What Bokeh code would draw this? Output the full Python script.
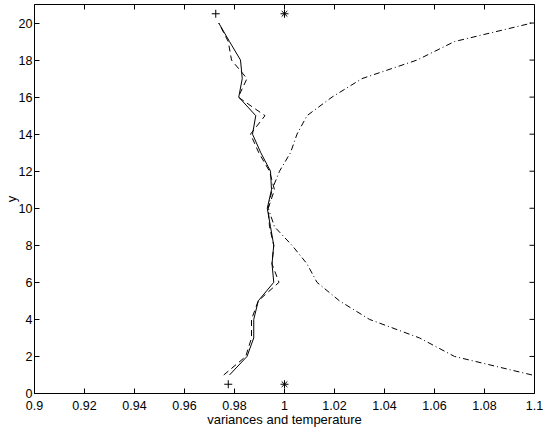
import math
from bokeh.plotting import figure
from bokeh.models import Range1d, FixedTicker
from bokeh.embed import file_html
from bokeh.resources import INLINE

y_levels = list(range(1, 21))
variance_solid = [0.978, 0.985, 0.9877, 0.9877, 0.9895, 0.9957, 0.995, 0.9957, 0.9944, 0.9931,
                  0.9948, 0.9944, 0.9905, 0.9872, 0.9885, 0.9817, 0.9831, 0.9824, 0.978, 0.9737]
variance_dashed = [0.9757, 0.9845, 0.9868, 0.9868, 0.9895, 0.9978, 0.995, 0.9957, 0.994, 0.9935,
                   0.996, 0.994, 0.9897, 0.9864, 0.9922, 0.9815, 0.985, 0.9788, 0.9775, 0.9737]
temperature = [1.099, 1.068, 1.054, 1.034, 1.022, 1.013, 1.009, 1.003, 0.996, 0.9935,
               0.995, 0.998, 1.0024, 1.005, 1.009, 1.019, 1.031, 1.053, 1.068, 1.099]
plus_x = [0.9725, 0.9775]
plus_y = [20.5, 0.5]
star_x = [1.0, 1.0]
star_y = [20.5, 0.5]
x_ticks = [0.9, 0.92, 0.94, 0.96, 0.98, 1.0, 1.02, 1.04, 1.06, 1.08, 1.1]
x_tick_labels = ["0.9", "0.92", "0.94", "0.96", "0.98", "1", "1.02", "1.04", "1.06", "1.08", "1.1"]
y_ticks = [0, 2, 4, 6, 8, 10, 12, 14, 16, 18, 20]
x_label = "variances and temperature"
y_label = "y"
X_MIN, X_MAX = 0.9, 1.1
Y_MIN, Y_MAX = 0, 21

FONT = "Liberation Sans"

p = figure(width=545, height=429, output_backend="svg", toolbar_location=None,
           x_range=Range1d(X_MIN, X_MAX), y_range=Range1d(Y_MIN, Y_MAX),
           min_border_left=20, min_border_right=11, min_border_top=4, min_border_bottom=20)
p.grid.visible = False
p.outline_line_color = "black"
p.outline_line_width = 1
p.background_fill_color = "white"
p.border_fill_color = "white"

p.xaxis.ticker = FixedTicker(ticks=x_ticks)
p.xaxis.major_label_overrides = {t: l for t, l in zip(x_ticks, x_tick_labels)}
p.yaxis.ticker = FixedTicker(ticks=y_ticks)
for ax in [p.xaxis[0], p.yaxis[0]]:
    ax.major_tick_in = 5
    ax.major_tick_out = 0
    ax.minor_tick_line_color = None
    ax.axis_line_color = "black"
    ax.major_tick_line_color = "black"
    ax.major_label_text_font = FONT
    ax.major_label_text_font_size = "12.5px"
    ax.major_label_text_color = "black"
    ax.axis_label_text_font = FONT
    ax.axis_label_text_font_size = "13px"
    ax.axis_label_text_font_style = "normal"
    ax.axis_label_text_color = "black"
p.xaxis.major_label_standoff = 7
p.xaxis.axis_label_standoff = -1
p.yaxis.major_label_standoff = 2
p.yaxis.axis_label_standoff = -3
p.xaxis.axis_label = x_label
p.yaxis.axis_label = y_label

# mirrored inward ticks on the top and right edges of the box (half of each dash is clipped away)
p.scatter(x_ticks, [Y_MAX] * len(x_ticks), marker="dash", size=10, angle=math.pi / 2,
          line_color="black", line_width=1)
p.scatter([X_MAX] * len(y_ticks), y_ticks, marker="dash", size=10,
          line_color="black", line_width=1)

p.line(variance_solid, y_levels, line_color="black", line_width=1)
p.line(variance_dashed, y_levels, line_color="black", line_width=1, line_dash="6 4")
p.line(temperature, y_levels, line_color="black", line_width=1, line_dash="6 3 1 3")
p.scatter(plus_x, plus_y, marker="cross", size=8, line_color="black", line_width=1)
p.scatter(star_x, star_y, marker="asterisk", size=8, line_color="black", line_width=1)

open("out.html", "w").write(file_html(p, INLINE))
